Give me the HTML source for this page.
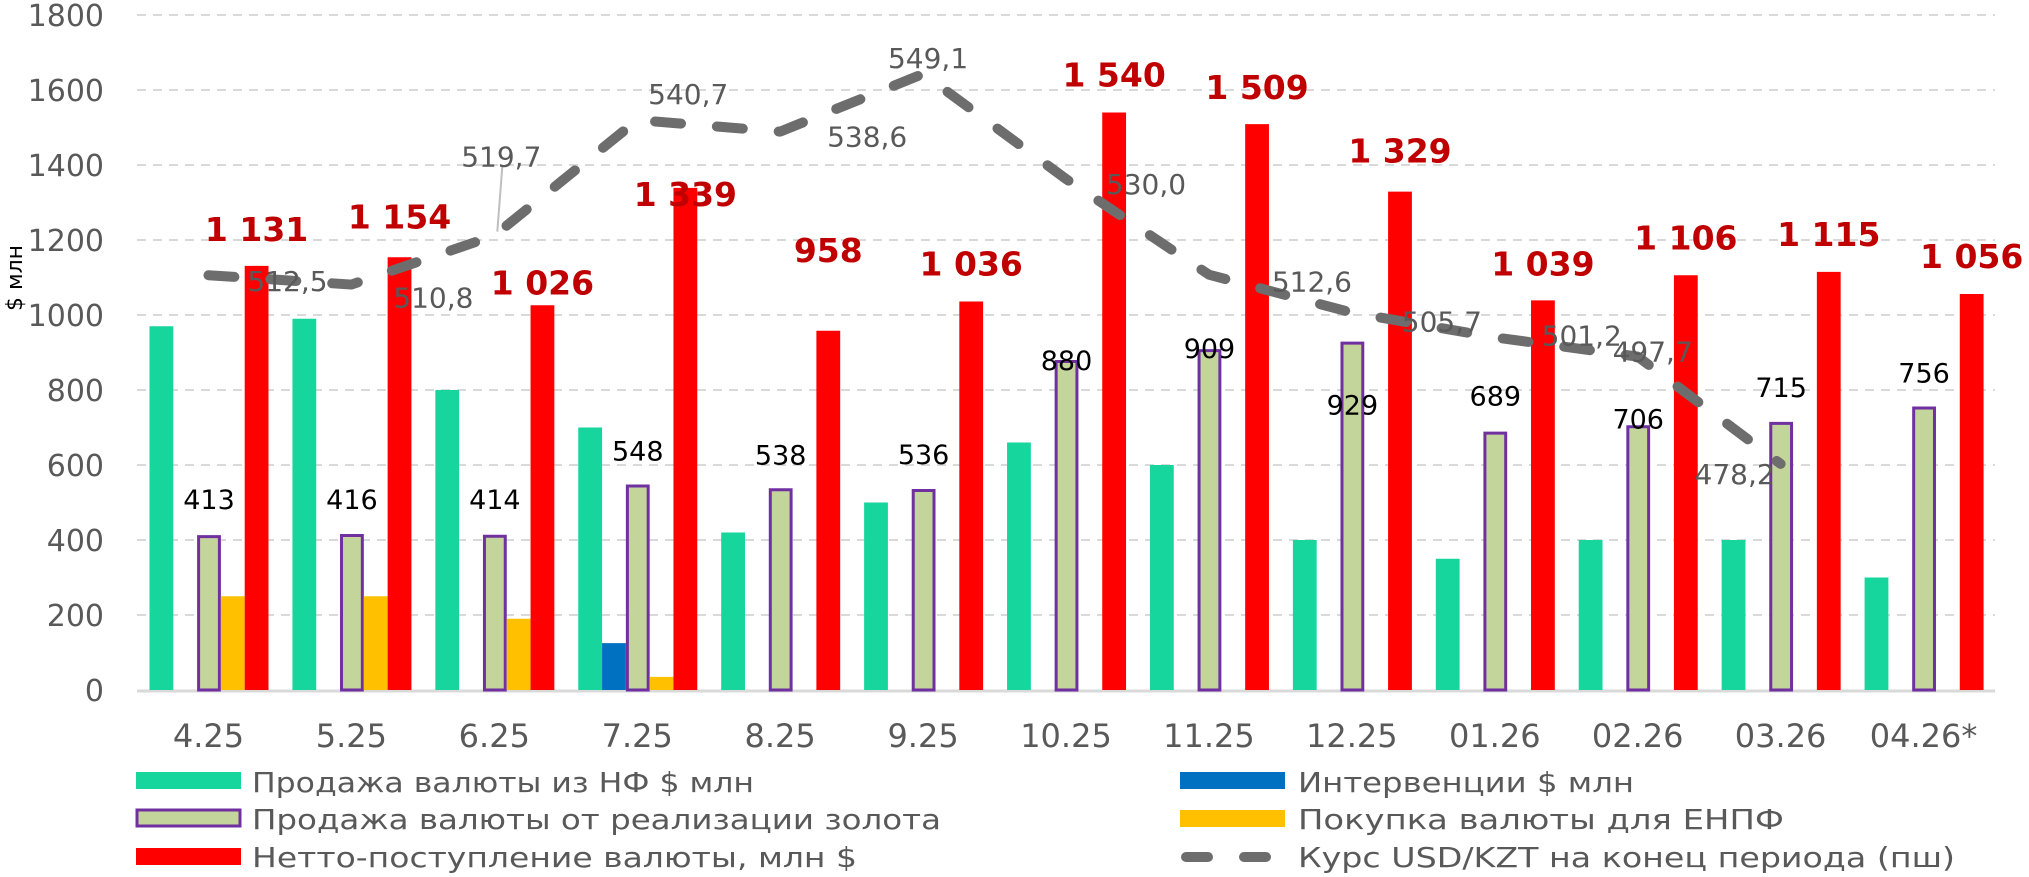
<!DOCTYPE html>
<html><head><meta charset="utf-8"><style>
html,body{margin:0;padding:0;background:#fff;}
svg{display:block;font-family:"DejaVu Sans","Liberation Sans",sans-serif;}
</style></head><body>
<svg id="chart" width="2029" height="877" viewBox="0 0 2029 877" xmlns="http://www.w3.org/2000/svg">
<g id="grid"></g>
<g id="yticks"></g>
<g id="bars"></g>
<g id="line"></g>
<g id="labels"></g>
<g id="xticks"></g>
<text transform="translate(22,278) rotate(-90)" text-anchor="middle" font-size="22" fill="#000">$ млн</text>
<g font-size="28" fill="#595959">
 <g><rect x="136" y="772" width="105" height="17" fill="#16d69e"/><text x="252" y="792" textLength="502" lengthAdjust="spacingAndGlyphs">Продажа валюты из НФ $ млн</text></g>
 <g><rect x="137" y="810" width="103" height="16" fill="#c4d59c" stroke="#7030a0" stroke-width="3"/><text x="252" y="829" textLength="689" lengthAdjust="spacingAndGlyphs">Продажа валюты от реализации золота</text></g>
 <g><rect x="136" y="848" width="105" height="17" fill="#ff0000"/><text x="252" y="867" textLength="605" lengthAdjust="spacingAndGlyphs">Нетто-поступление валюты, млн $</text></g>
 <g><rect x="1180" y="772" width="105" height="17" fill="#0070c0"/><text x="1298" y="792" textLength="336" lengthAdjust="spacingAndGlyphs">Интервенции $ млн</text></g>
 <g><rect x="1180" y="810" width="105" height="17" fill="#ffc000"/><text x="1298" y="829" textLength="486" lengthAdjust="spacingAndGlyphs">Покупка валюты для ЕНПФ</text></g>
 <g><line x1="1186" y1="857" x2="1280" y2="857" stroke="#6d6d6d" stroke-width="10" stroke-linecap="round" stroke-dasharray="22 36"/><text x="1298" y="867" textLength="657" lengthAdjust="spacingAndGlyphs">Курс USD/KZT на конец периода (пш)</text></g>
</g>
</svg>
<script>
const categories=["4.25","5.25","6.25","7.25","8.25","9.25","10.25","11.25","12.25","01.26","02.26","03.26","04.26*"];
const nfSales=[970,990,800,700,420,500,660,600,400,350,400,400,300];
const interventions=[0,0,0,125,0,0,0,0,0,0,0,0,0];
const goldSales=[413,416,414,548,538,536,880,909,929,689,706,715,756];
const enpf=[250,250,190,35,0,0,0,0,0,0,0,0,0];
const netInflow=[1131,1154,1026,1339,958,1036,1540,1509,1329,1039,1106,1115,1056];
const goldLabels=["413","416","414","548","538","536","880","909","929","689","706","715","756"];
const netLabels=["1 131","1 154","1 026","1 339","958","1 036","1 540","1 509","1 329","1 039","1 106","1 115","1 056"];
const rate=[512.5,510.8,519.7,540.7,538.6,549.1,530.0,512.6,505.7,501.2,497.7,478.2];
const rateLabels=["512,5","510,8","519,7","540,7","538,6","549,1","530,0","512,6","505,7","501,2","497,7","478,2"];
const yTicks=[0,200,400,600,800,1000,1200,1400,1600,1800];

// layout (styling, not data)
const X0=137,X1=1995,Y0=690,YTOP=15,YMAX=1800,R_MIN=437.1,R_MAX=559.8;
const CW=(X1-X0)/categories.length,BW=23.8,BOFF=12.5;
const netOff=[-37,-41,-23,6,-81,-38,-38,-37,-41,-37,-38,-38,-38];
const goldOff=[-36,-35,-36,-34,-34,-35,0,-1,63,-36,-7,-35,-34];
const rateOff=[[79,6],[82,13],[7,-79],[51,-26],[87,5],[5,-16],[80,5],[103,7],[90,9],[87,-2],[15,-5],[-46,10]];

const NS="http://www.w3.org/2000/svg";
function y(v){return Y0-(v/YMAX)*(Y0-YTOP);}
function yr(v){return Y0-(v-R_MIN)/(R_MAX-R_MIN)*(Y0-YTOP);}
function xc(i){return X0+CW*i+CW/2;}
function xb(i,k){return X0+CW*i+BOFF+BW*k;}
function mk(tag,attrs,parent){const e=document.createElementNS(NS,tag);for(const k in attrs)e.setAttribute(k,attrs[k]);parent.appendChild(e);return e;}

const grid=document.getElementById('grid'),yt=document.getElementById('yticks');
yTicks.forEach(t=>{
  if(t>0){const l=mk('line',{x1:X0,x2:X1,y1:y(t),y2:y(t),stroke:'#d9d9d9','stroke-width':2,'stroke-dasharray':'9 7'},grid);
  
  }
  const tx=mk('text',{x:104,y:y(t)+11,'text-anchor':'end','font-size':30,fill:'#595959'},yt);
  tx.textContent=t;
  
  
});
const ax=mk('line',{x1:X0,x2:X1,y1:Y0+1,y2:Y0+1,stroke:'#d9d9d9','stroke-width':3},grid);



const bars=document.getElementById('bars');
const series=[[nfSales,'#16d69e',null,'bar-nf-sales'],[interventions,'#0070c0',null,'bar-intervention'],[goldSales,'#c4d59c','#7030a0','bar-gold-sales'],[enpf,'#ffc000',null,'bar-enpf'],[netInflow,'#ff0000',null,'bar-net-inflow']];
categories.forEach((c,i)=>{
  series.forEach((s,k)=>{
    const v=s[0][i]; if(!v)return;
    const a={x:xb(i,k),y:y(v),width:BW,height:Y0-y(v),fill:s[1]};
    if(s[2]){a.stroke=s[2];a['stroke-width']=3;a.x+=1.5;a.width-=3;a.y+=1.5;a.height-=1.5;}
    const r=mk('rect',a,bars);
    
    
  });
});

const line=document.getElementById('line');
const pts=rate.map((v,i)=>xc(i)+','+yr(v)).join(' ');
const pl=mk('polyline',{points:pts,fill:'none',stroke:'#6d6d6d','stroke-width':10,'stroke-linecap':'round','stroke-linejoin':'round','stroke-dasharray':'26 36'},line);



const lab=document.getElementById('labels');
const ld=mk('line',{x1:xc(2)+8,y1:yr(rate[2])-69,x2:xc(2)+3,y2:yr(rate[2])-4,stroke:'#bfbfbf','stroke-width':2},lab);


rate.forEach((v,i)=>{
  const t=mk('text',{x:xc(i)+rateOff[i][0],y:yr(v)+rateOff[i][1]+10,'text-anchor':'middle','font-size':28,fill:'#595959'},lab);
  t.textContent=rateLabels[i];
  
  
});
categories.forEach((c,i)=>{
  const g=mk('text',{x:xb(i,2)+BW/2,y:y(goldSales[i])+goldOff[i]+10,'text-anchor':'middle','font-size':27,fill:'#000'},lab);
  g.textContent=goldLabels[i];
  
  
  const n=mk('text',{x:xb(i,4)+BW/2,y:y(netInflow[i])+netOff[i]+12,'text-anchor':'middle','font-size':33,'font-weight':'bold',fill:'#c00000'},lab);
  n.textContent=netLabels[i];
  
  
  const x=mk('text',{x:xc(i),y:747,'text-anchor':'middle','font-size':32,fill:'#595959'},document.getElementById('xticks'));
  x.textContent=c;
  
  
});
</script>
</body></html>
